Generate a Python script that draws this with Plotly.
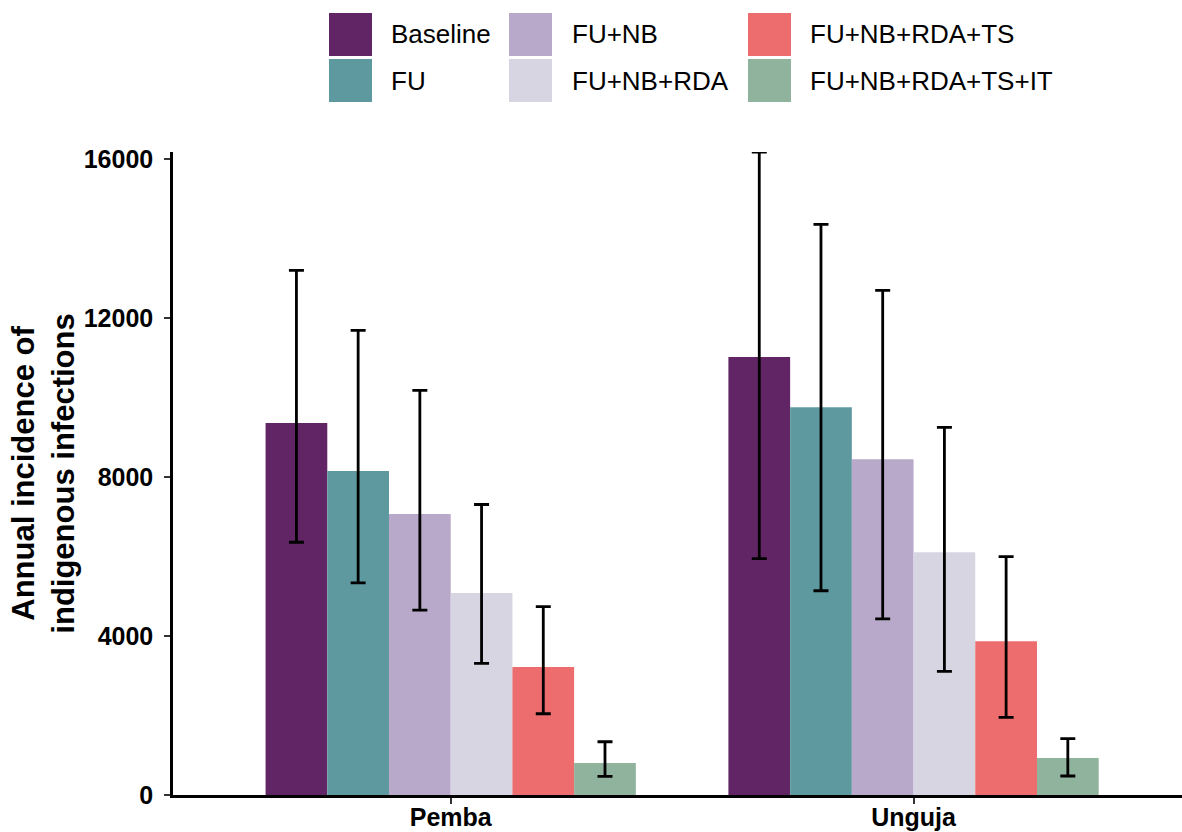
import plotly.graph_objects as go

# Islands on the x axis
islands = ["Pemba", "Unguja"]

# Intervention scenarios (legend order)
scenarios = ["Baseline", "FU", "FU+NB", "FU+NB+RDA", "FU+NB+RDA+TS", "FU+NB+RDA+TS+IT"]

# Mean annual incidence for each scenario: [Pemba, Unguja]
incidence = {
    "Baseline":        [9360, 11020],
    "FU":              [8150, 9760],
    "FU+NB":           [7070, 8450],
    "FU+NB+RDA":       [5080, 6110],
    "FU+NB+RDA+TS":    [3220, 3870],
    "FU+NB+RDA+TS+IT": [805, 930],
}

# Upper and lower interval bounds: [Pemba, Unguja]
upper = {
    "Baseline":        [13200, 16180],
    "FU":              [11690, 14360],
    "FU+NB":           [10180, 12700],
    "FU+NB+RDA":       [7310, 9250],
    "FU+NB+RDA+TS":    [4740, 6000],
    "FU+NB+RDA+TS+IT": [1340, 1420],
}
lower = {
    "Baseline":        [6360, 5950],
    "FU":              [5340, 5140],
    "FU+NB":           [4650, 4430],
    "FU+NB+RDA":       [3310, 3110],
    "FU+NB+RDA+TS":    [2045, 1955],
    "FU+NB+RDA+TS+IT": [470, 478],
}

y_ticks = [0, 4000, 8000, 12000, 16000]

colors = {
    "Baseline":        "#612565",
    "FU":              "#5E99A0",
    "FU+NB":           "#B8A9CA",
    "FU+NB+RDA":       "#D7D5E2",
    "FU+NB+RDA+TS":    "#ED6C6E",
    "FU+NB+RDA+TS+IT": "#8FB39C",
}

FONT = "Liberation Sans, Arial, Helvetica, sans-serif"
W, H = 1182, 832
ML, MR, MT, MB = 173, 0, 152, 37
PW, PH = W - ML - MR, H - MT - MB

fig = go.Figure()
for s in scenarios:
    vals = incidence[s]
    fig.add_trace(go.Bar(
        name=s,
        x=islands,
        y=vals,
        marker=dict(color=colors[s], line=dict(width=0)),
        error_y=dict(
            type="data",
            symmetric=False,
            array=[u - v for u, v in zip(upper[s], vals)],
            arrayminus=[v - l for v, l in zip(vals, lower[s])],
            color="black",
            thickness=2.8,
            width=7.5,
        ),
        showlegend=False,
    ))


def px_x(px):
    return (px - ML) / PW


def px_y(py):
    return (H - MB - py) / PH


# Legend drawn as a 3 x 2 grid of large colour keys, filled column by column
key_cols = [329, 509, 748]
text_cols = [389, 570, 808]
key_rows = [13, 59]
key_size = 43
shapes = []
annotations = []
for i, s in enumerate(scenarios):
    c, r = divmod(i, 2)
    x0, y0 = key_cols[c], key_rows[r]
    shapes.append(dict(
        type="rect", xref="paper", yref="paper",
        x0=px_x(x0), x1=px_x(x0 + key_size),
        y0=px_y(y0 + key_size), y1=px_y(y0),
        fillcolor=colors[s], line=dict(width=0), layer="above",
    ))
    annotations.append(dict(
        xref="paper", yref="paper",
        x=px_x(text_cols[c]), y=px_y(y0 + key_size / 2),
        xanchor="left", yanchor="middle",
        text=s, showarrow=False,
        font=dict(family=FONT, size=26, color="black"),
    ))

fig.update_layout(
    width=W, height=H,
    margin=dict(l=ML, r=MR, t=MT, b=MB, autoexpand=False),
    paper_bgcolor="white",
    plot_bgcolor="white",
    barmode="group",
    bargap=0.2,
    bargroupgap=0,
    font=dict(family=FONT, color="black"),
    shapes=shapes,
    annotations=annotations,
    xaxis=dict(
        type="category",
        range=[-0.6, 1.58],
        showline=True, linecolor="black", linewidth=2.5,
        ticks="outside", ticklen=6, tickwidth=2, tickcolor="#333333",
        ticklabelstandoff=-8,
        tickfont=dict(family=FONT, size=25, color="black", weight="bold"),
        showgrid=False, zeroline=False,
        automargin=False,
    ),
    yaxis=dict(
        range=[0, 16180],
        tickvals=y_ticks,
        ticktext=[str(v) for v in y_ticks],
        showline=True, linecolor="black", linewidth=2.5,
        ticks="outside", ticklen=6, tickwidth=2, tickcolor="#333333",
        ticklabelstandoff=6,
        tickfont=dict(family=FONT, size=25, color="black", weight="bold"),
        showgrid=False, zeroline=False,
        automargin=False,
        title=dict(
            text="Annual incidence of<br>indigenous infections",
            font=dict(family=FONT, size=31, color="black", weight="bold"),
            standoff=0,
        ),
    ),
)

fig.write_html("out.html")
